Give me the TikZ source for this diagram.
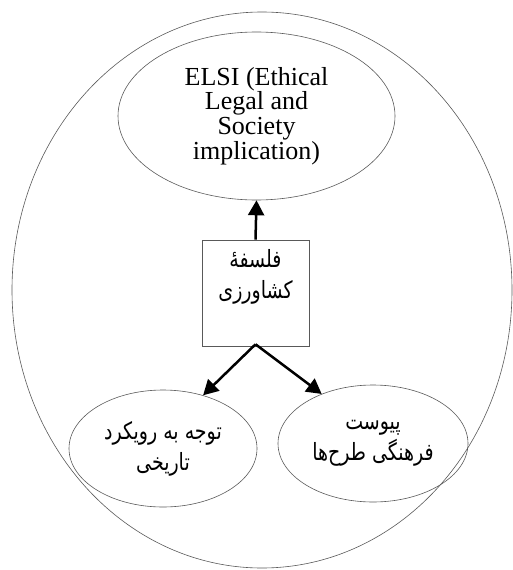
\documentclass[tikz,border=0pt]{standalone}
\usepackage{fontspec}
\usepackage{graphicx}
\setmainfont{Liberation Serif}
\newfontfamily\farsi[Script=Arabic]{DejaVu Sans}
\TeXXeTstate=1
\usetikzlibrary{
  shapes.geometric, % Shape "ellipse"
  arrows.meta,
  positioning,      % Function "of" (e.g. [below=of x])
}
\newcommand{\fa}[1]{\scalebox{1}[1.25]{\beginR #1\endR}}
\tikzset{
  thin line/.style={
    draw=black!65,
    line width=0.6pt
  },
  my ellipse/.style={
    thin line,
    ellipse,
    inner sep=0pt
  },
  my box/.style={
    thin line,
    rectangle,
    minimum width=107pt,
    minimum height=106pt
  },
  latin text/.style={
    align=center,
    font=\fontsize{26}{24.7}\selectfont
  },
  farsi text/.style={
    align=center,
    font=\farsi\fontsize{19}{31}\selectfont
  },
  flow/.style={
    -{Triangle[length=15pt,width=16pt]},
    line width=2.5pt
  }
}

\begin{document}
\begin{tikzpicture}[x=1pt,y=-1pt]
\useasboundingbox (0,0) rectangle (513,570);
\node[my ellipse,minimum width=500pt,minimum height=556pt] (frame) at (262,290) {};
\node[my ellipse,minimum width=277pt,minimum height=168pt,latin text] (elsi) at (256.5,116)
  {ELSI (Ethical\\Legal and\\Society\\implication)};
\node[my box] (phil) at (255.5,293) {};
\node[farsi text,below=6pt of phil.north] (philtext) {\fa{فلسفهٔ}\\\fa{کشاورزی}};
\node[my ellipse,minimum width=188pt,minimum height=117pt,farsi text] (hist) at (163,448.5)
  {\fa{توجه به رویکرد}\\\fa{تاریخی}};
\node[my ellipse,minimum width=190pt,minimum height=117pt,farsi text] (cult) at (373,443.5)
  {\fa{پیوست}\\\fa{فرهنگی طرح^^^^200cها}};
\draw[flow] (phil.north) -- (elsi.south);
\draw[flow] ([yshift=2pt]phil.south) -- (hist.53);
\draw[flow] ([yshift=2pt]phil.south) -- (cult.136);
\end{tikzpicture}
\end{document}
